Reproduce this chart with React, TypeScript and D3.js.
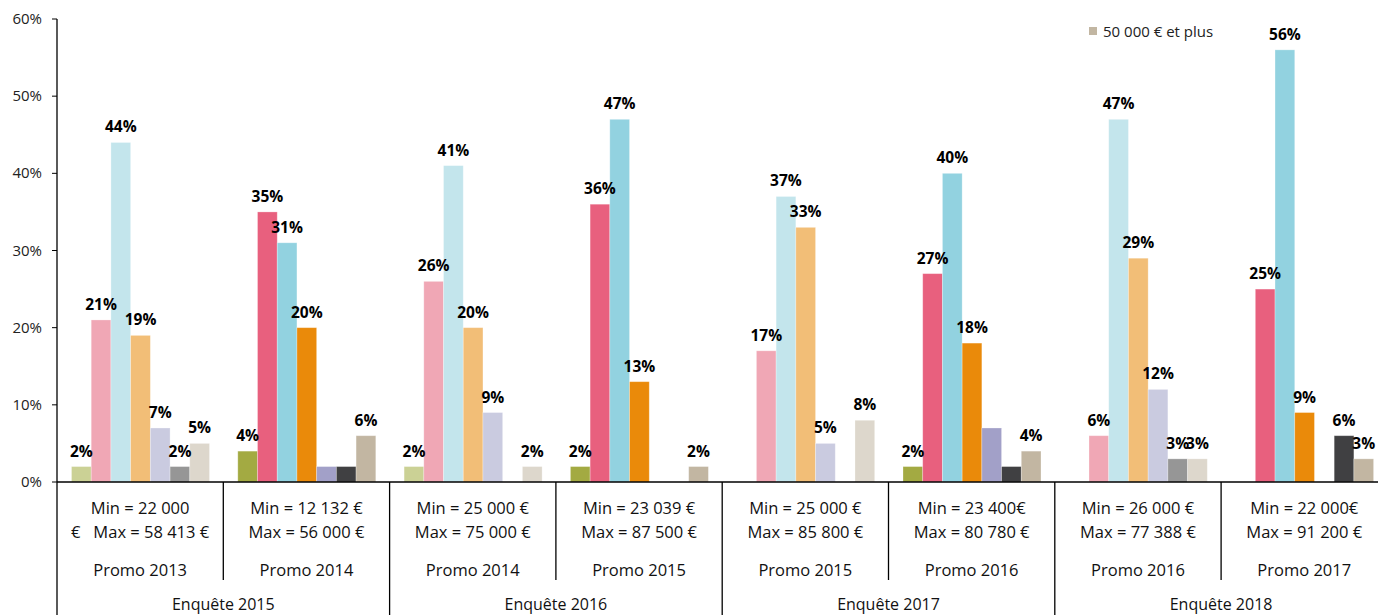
import React from "react";
import * as d3 from "d3";

const categories = ["c0", "c1", "c2", "c3", "c4", "c5", "c6"];
const legendLabel = "50 000 € et plus";

const promos = ["Promo 2013", "Promo 2014", "Promo 2014", "Promo 2015", "Promo 2015", "Promo 2016", "Promo 2016", "Promo 2017"];
const minLines = ["Min = 22 000", "Min = 12 132 €", "Min = 25 000 €", "Min = 23 039 €", "Min = 25 000 €", "Min = 23 400€", "Min = 26 000 €", "Min = 22 000€"];
const maxLines = ["€   Max = 58 413 €", "Max = 56 000 €", "Max = 75 000 €", "Max = 87 500 €", "Max = 85 800 €", "Max = 80 780 €", "Max = 77 388 €", "Max = 91 200 €"];
const enquetes = ["Enquête 2015", "Enquête 2016", "Enquête 2017", "Enquête 2018"];

// values in % per group, per category
const values: number[][] = [
  [2, 21, 44, 19, 7, 2, 5],
  [4, 35, 31, 20, 2, 2, 6],
  [2, 26, 41, 20, 9, 0, 2],
  [2, 36, 47, 13, 0, 0, 2],
  [0, 17, 37, 33, 5, 0, 8],
  [2, 27, 40, 18, 7, 2, 4],
  [0, 6, 47, 29, 12, 3, 3],
  [0, 25, 56, 9, 0, 6, 3],
];
// whether a label is displayed
const showLabel: boolean[][] = [
  [true, true, true, true, true, true, true],
  [true, true, true, true, false, false, true],
  [true, true, true, true, true, true, true],
  [true, true, true, true, true, true, true],
  [true, true, true, true, true, true, true],
  [true, true, true, true, false, false, true],
  [true, true, true, true, true, true, true],
  [true, true, true, true, true, true, true],
];

const lightColors = ["#CBD195", "#F0A7B5", "#C3E5EC", "#F2BE77", "#CACBE0", "#969696", "#DDD7CC"];
const darkColors = ["#A3AA42", "#E8607E", "#92D2E0", "#EA8A0A", "#A2A0C8", "#404042", "#C2B6A2"];

const yTicks = [0, 10, 20, 30, 40, 50, 60];

export default function App() {
  const W = 1378;
  const H = 615;
  const left = 57;
  const groupW = 166.3;
  const y = d3.scaleLinear().domain([0, 60]).range([482, 19]);
  const gx = d3
    .scaleBand<number>()
    .domain(d3.range(8))
    .range([left, left + groupW * 8])
    .padding(0);
  const bx = d3.scaleBand<string>().domain(categories).range([14.5, 152.5]).padding(0);
  const font = "'Open Sans', 'Noto Sans', sans-serif";

  return (
    <svg
      width={W}
      height={H}
      style={{ position: "absolute", left: 0, top: 0, background: "#fff" }}
      fontFamily={font}
    >
      {/* bars */}
      {values.map((row, g) => (
        <g key={g} transform={`translate(${gx(g)},0)`}>
          {row.map((v, c) =>
            v > 0 ? (
              <rect
                key={c}
                x={bx(categories[c])}
                y={y(v)}
                width={bx.bandwidth()}
                height={y(0) - y(v)}
                fill={(g % 2 === 0 ? lightColors : darkColors)[c]}
                stroke="#ffffff"
                strokeOpacity={0.35}
                strokeWidth={0.8}
              />
            ) : null
          )}
          {row.map((v, c) =>
            v > 0 && showLabel[g][c] ? (
              <text
                key={"l" + c}
                x={(bx(categories[c]) as number) + bx.bandwidth() / 2}
                y={y(v) - 10}
                textAnchor="middle"
                fontSize={15.5}
                fontWeight="bold"
                fill="#000"
              >
                {v}%
              </text>
            ) : null
          )}
        </g>
      ))}

      {/* y axis */}
      <line x1={left} x2={left} y1={y(60)} y2={H} stroke="#000" strokeWidth={1.3} />
      {yTicks.map((t) => (
        <g key={t}>
          <line x1={left - 5} x2={left} y1={y(t)} y2={y(t)} stroke="#000" strokeWidth={1} />
          <text x={42} y={y(t) + 5} textAnchor="end" fontSize={15} fill="#222">
            {t}%
          </text>
        </g>
      ))}

      {/* x axis */}
      <line x1={left} x2={W} y1={y(0)} y2={y(0)} stroke="#000" strokeWidth={1.3} />
      {d3.range(1, 9).map((i) => {
        const xx = left + groupW * i;
        const full = i % 2 === 0;
        return (
          <line key={i} x1={xx} x2={xx} y1={y(0)} y2={full ? H : 580} stroke="#000" strokeWidth={1.3} />
        );
      })}
      {promos.map((p, g) => {
        const cx = (gx(g) as number) + groupW / 2;
        return (
          <g key={g} fontSize={16.5} fill="#111" textAnchor="middle">
            <text x={cx} y={514}>{minLines[g]}</text>
            <text x={cx} y={538} style={{ whiteSpace: "pre" }}>{maxLines[g]}</text>
            <text x={cx} y={576}>{p}</text>
          </g>
        );
      })}
      {enquetes.map((e, i) => (
        <text key={e} x={left + groupW * (2 * i + 1)} y={610} textAnchor="middle" fontSize={16} fill="#111">
          {e}
        </text>
      ))}

      {/* legend */}
      <rect x={1089} y={27} width={8} height={8} fill={darkColors[6]} />
      <text x={1103} y={37} fontSize={15} fill="#222">
        {legendLabel}
      </text>
    </svg>
  );
}
